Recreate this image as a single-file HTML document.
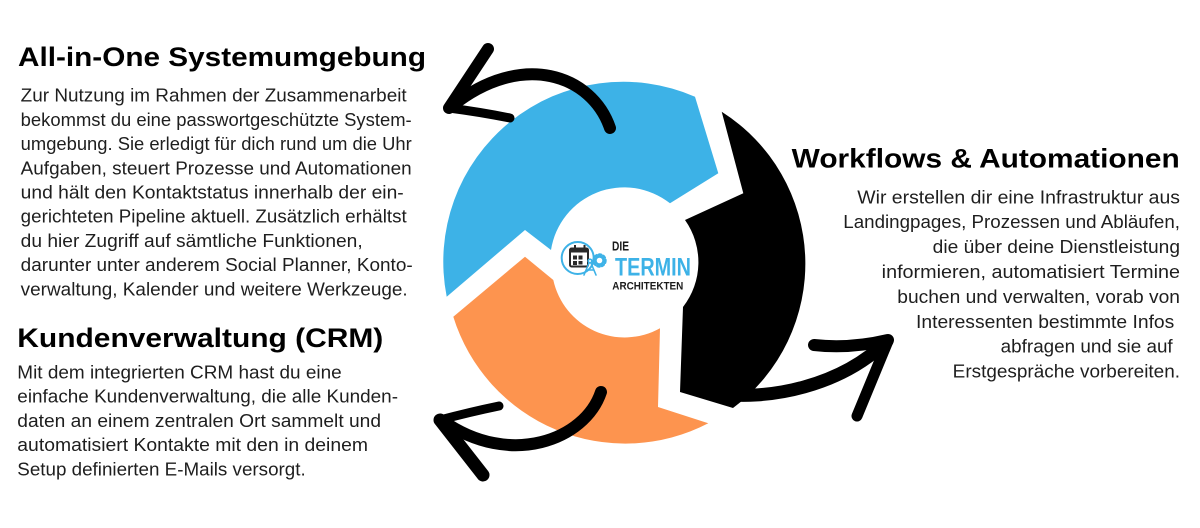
<!DOCTYPE html>
<html>
<head>
<meta charset="utf-8">
<style>
  html, body { margin:0; padding:0; background:#fff; }
  svg { display:block; }
  .h { font-family:"Liberation Sans", "DejaVu Sans", sans-serif; font-weight:bold; font-size:27px; fill:#000; }
  .b { font-family:"Liberation Sans", "DejaVu Sans", sans-serif; font-size:18px; fill:#1e1e1e; }
</style>
</head>
<body>
<svg width="1200" height="528" viewBox="0 0 1200 528" xmlns="http://www.w3.org/2000/svg">
  <rect width="1200" height="528" fill="#fff"/>

  <!-- Ring segments -->
  <path d="M446.7 296.7 A180 180 0 0 1 695 96.7 L718.3 173.3 L670 203.3 A74 74 0 0 0 551 250 L525 230 Z" fill="#3db2e7"/>
  <path d="M721.7 111.7 L743.3 193.3 L685 220 A73 73 0 0 1 683 307 L680 392 L733 408 A180 180 0 0 0 721.7 111.7 Z" fill="#000"/>
  <path d="M525 256.7 L553.3 280 A73 73 0 0 0 660 328.3 L658 407 L708.3 423.3 A180 180 0 0 1 453.3 316.7 Z" fill="#fd944f"/>

  <!-- Arrows -->
  <g fill="none" stroke="#000" stroke-linecap="round" stroke-linejoin="round">
    <!-- top arrow -->
    <path d="M610 128 C592 75, 522 50, 452 106" stroke-width="12"/>
    <path d="M449 108 L488 49" stroke-width="12"/>
    <path d="M449 108 Q480 112 510 118" stroke-width="9"/>
    <!-- bottom-left arrow -->
    <path d="M601 392 C585 440, 510 468, 443 421" stroke-width="12"/>
    <path d="M440 420 Q470 412 499 406" stroke-width="9"/>
    <path d="M440 420 L483 475" stroke-width="13"/>
    <!-- right arrow -->
    <path d="M712 393 C770 402, 842 385, 887 341" stroke-width="13"/>
    <path d="M814 345 Q850 349 888 340" stroke-width="12"/>
    <path d="M888 341 L857 416" stroke-width="11"/>
  </g>

  <!-- Logo -->
  <circle cx="577.7" cy="258" r="16" fill="#fff" stroke="#3db2e7" stroke-width="2"/>
  <rect x="570" y="248.5" width="18" height="18" rx="1.5" fill="none" stroke="#2a2a2a" stroke-width="2"/>
  <rect x="570" y="248.5" width="18" height="4" fill="#2a2a2a"/>
  <rect x="574" y="245" width="2" height="5" fill="#2a2a2a"/>
  <rect x="583.5" y="245" width="2" height="5" fill="#2a2a2a"/>
  <rect x="573" y="255.5" width="4" height="4" fill="#2a2a2a"/>
  <rect x="578.5" y="255.5" width="4" height="4" fill="#2a2a2a"/>
  <rect x="573" y="261" width="4" height="4" fill="#2a2a2a"/>
  <rect x="578.5" y="261" width="4" height="3.5" fill="#2a2a2a"/>
  <g stroke="#3db2e7" fill="none" stroke-width="1.6" stroke-linecap="round">
    <circle cx="590" cy="261" r="1.8"/>
    <path d="M589 263 L584 275 M591 263 L596 275 M586 270 L594 270"/>
    <circle cx="599.5" cy="260.5" r="4" stroke-width="2.4"/>
    <circle cx="599.5" cy="260.5" r="6" stroke-width="2.4" stroke-dasharray="2.3 2.3"/>
  </g>
  <text x="612" y="250.3" textLength="17" lengthAdjust="spacingAndGlyphs" font-family="'Liberation Sans Narrow','Liberation Sans',sans-serif" font-weight="bold" font-size="13" fill="#1a1a1a">DIE</text>
  <text x="615" y="275.3" textLength="76" lengthAdjust="spacingAndGlyphs" font-family="'Liberation Sans Narrow','Liberation Sans',sans-serif" font-weight="bold" font-size="25" fill="#3db2e7">TERMIN</text>
  <text x="612.3" y="289.3" textLength="71" lengthAdjust="spacingAndGlyphs" font-family="'Liberation Sans Narrow','Liberation Sans',sans-serif" font-weight="bold" font-size="11" fill="#1a1a1a">ARCHITEKTEN</text>

  <!-- Headings -->
  <text class="h" x="18" y="66" textLength="408" lengthAdjust="spacingAndGlyphs">All-in-One Systemumgebung</text>
  <text class="h" x="17.3" y="347" textLength="366" lengthAdjust="spacingAndGlyphs">Kundenverwaltung (CRM)</text>
  <text class="h" x="791.7" y="167.3" textLength="388" lengthAdjust="spacingAndGlyphs">Workflows &amp; Automationen</text>

  <!-- Section 1 body -->
  <text class="b" x="20.7" y="101.7" textLength="386" lengthAdjust="spacingAndGlyphs">Zur Nutzung im Rahmen der Zusammenarbeit</text>
  <text class="b" x="20.7" y="125.9" textLength="391" lengthAdjust="spacingAndGlyphs">bekommst du eine passwortgeschützte System-</text>
  <text class="b" x="20.7" y="150.1" textLength="391" lengthAdjust="spacingAndGlyphs">umgebung. Sie erledigt für dich rund um die Uhr</text>
  <text class="b" x="20.7" y="174.3" textLength="391" lengthAdjust="spacingAndGlyphs">Aufgaben, steuert Prozesse und Automationen</text>
  <text class="b" x="20.7" y="198.5" textLength="383" lengthAdjust="spacingAndGlyphs">und hält den Kontaktstatus innerhalb der ein-</text>
  <text class="b" x="20.7" y="222.7" textLength="386" lengthAdjust="spacingAndGlyphs">gerichteten Pipeline aktuell. Zusätzlich erhältst</text>
  <text class="b" x="20.7" y="246.9" textLength="342" lengthAdjust="spacingAndGlyphs">du hier Zugriff auf sämtliche Funktionen,</text>
  <text class="b" x="20.7" y="271.1" textLength="392" lengthAdjust="spacingAndGlyphs">darunter unter anderem Social Planner, Konto-</text>
  <text class="b" x="20.7" y="295.3" textLength="387" lengthAdjust="spacingAndGlyphs">verwaltung, Kalender und weitere Werkzeuge.</text>

  <!-- Section 2 body -->
  <text class="b" x="17.3" y="378.3" textLength="324.4" lengthAdjust="spacingAndGlyphs">Mit dem integrierten CRM hast du eine</text>
  <text class="b" x="17.3" y="402.6" textLength="380.7" lengthAdjust="spacingAndGlyphs">einfache Kundenverwaltung, die alle Kunden-</text>
  <text class="b" x="17.3" y="426.9" textLength="363.7" lengthAdjust="spacingAndGlyphs">daten an einem zentralen Ort sammelt und</text>
  <text class="b" x="17.3" y="451.2" textLength="350.7" lengthAdjust="spacingAndGlyphs">automatisiert Kontakte mit den in deinem</text>
  <text class="b" x="17.3" y="475.5" textLength="288.4" lengthAdjust="spacingAndGlyphs">Setup definierten E-Mails versorgt.</text>

  <!-- Section 3 body -->
  <text class="b" x="857.3" y="203.3" textLength="322.7" lengthAdjust="spacingAndGlyphs">Wir erstellen dir eine Infrastruktur aus</text>
  <text class="b" x="843.3" y="228.2" textLength="336.7" lengthAdjust="spacingAndGlyphs">Landingpages, Prozessen und Abläufen,</text>
  <text class="b" x="932.7" y="253.1" textLength="247.3" lengthAdjust="spacingAndGlyphs">die über deine Dienstleistung</text>
  <text class="b" x="881.7" y="278" textLength="298.3" lengthAdjust="spacingAndGlyphs">informieren, automatisiert Termine</text>
  <text class="b" x="897.3" y="302.9" textLength="282.7" lengthAdjust="spacingAndGlyphs">buchen und verwalten, vorab von</text>
  <text class="b" x="916" y="327.8" textLength="258.3" lengthAdjust="spacingAndGlyphs">Interessenten bestimmte Infos</text>
  <text class="b" x="1000.7" y="352.7" textLength="172" lengthAdjust="spacingAndGlyphs">abfragen und sie auf</text>
  <text class="b" x="952.7" y="377.6" textLength="227.3" lengthAdjust="spacingAndGlyphs">Erstgespräche vorbereiten.</text>
</svg>
</body>
</html>
